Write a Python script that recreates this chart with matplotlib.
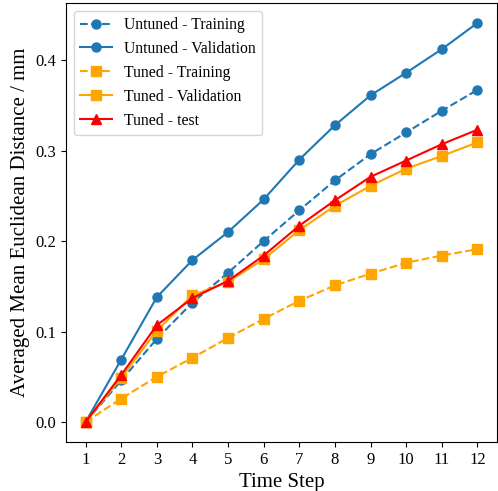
import matplotlib
matplotlib.use("Agg")
import matplotlib.pyplot as plt

steps = list(range(1, 13))
untuned_train = [0.0, 0.046, 0.092, 0.132, 0.165, 0.200, 0.234, 0.267, 0.296, 0.320, 0.344, 0.367]
untuned_val = [0.0, 0.069, 0.138, 0.179, 0.210, 0.246, 0.290, 0.328, 0.361, 0.386, 0.412, 0.441]
tuned_train = [0.0, 0.026, 0.050, 0.071, 0.093, 0.114, 0.134, 0.151, 0.164, 0.176, 0.184, 0.191]
tuned_val = [0.0, 0.049, 0.101, 0.140, 0.155, 0.180, 0.212, 0.239, 0.261, 0.280, 0.294, 0.309]
tuned_test = [0.0, 0.052, 0.107, 0.137, 0.156, 0.184, 0.217, 0.245, 0.271, 0.289, 0.307, 0.323]

plt.rcParams['font.family'] = ['Liberation Serif', 'DejaVu Serif']
plt.rcParams['mathtext.fontset'] = 'stix'

fig = plt.figure(figsize=(4.98, 4.91), dpi=100)
ax = fig.add_axes([66/498, 1 - 442/491, (497-66)/498, (442-3)/491])

blue = '#1f77b4'
orange = 'orange'
ax.plot(steps, untuned_train, '--o', color=blue, markersize=6.5, label='Untuned - Training')
ax.plot(steps, untuned_val, '-o', color=blue, markersize=6.5, label='Untuned - Validation')
ax.plot(steps, tuned_train, '--s', color=orange, markersize=6.5, label='Tuned - Training')
ax.plot(steps, tuned_val, '-s', color=orange, markersize=6.5, label='Tuned - Validation')
ax.plot(steps, tuned_test, '-^', color='red', markersize=6.5, label='Tuned - test')

ax.set_xticks(steps)
ax.tick_params(labelsize=12)
ax.set_xlabel('Time Step', fontsize=15)
ax.set_ylabel('Averaged Mean Euclidean Distance / mm', fontsize=15)
ax.legend(loc='upper left', fontsize=11.3)

fig.savefig('out.png', dpi=100)
